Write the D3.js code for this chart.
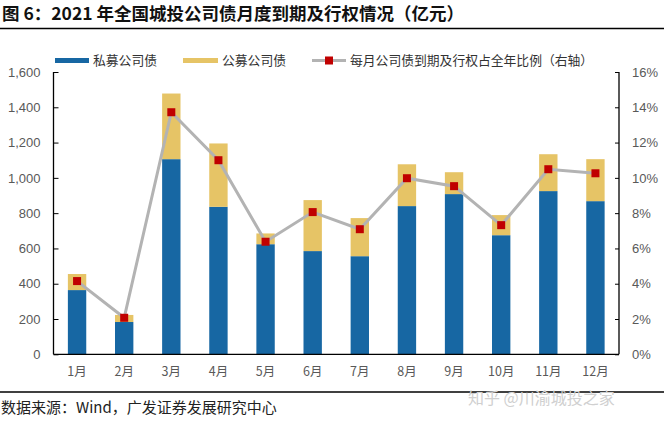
<!DOCTYPE html>
<html><head><meta charset="utf-8">
<script src="https://cdn.jsdelivr.net/npm/d3@7"></script>
<style>body{margin:0;background:#fff}svg{display:block}</style>
</head><body>
<svg id="c" width="664" height="431"></svg>
<script>
const months = ["1月","2月","3月","4月","5月","6月","7月","8月","9月","10月","11月","12月"];
const privateBonds = [364,183,1106,836,624,585,556,840,908,675,925,868];
const publicBonds = [91,40,372,359,61,289,216,237,124,114,209,238];
const ratio = [4.15,2.07,13.72,11.0,6.38,8.06,7.09,9.98,9.53,7.32,10.49,10.26];
const leftTicks = [0,200,400,600,800,1000,1200,1400,1600];
const rightTicks = [0,2,4,6,8,10,12,14,16];
const seriesNames = ["私募公司债","公募公司债","每月公司债到期及行权占全年比例（右轴）"];
const colors = {priv:"#1767a3", pub:"#e6c466", line:"#b3b3b3", marker:"#c00000"};

const svg = d3.select("#c");
const cjk = "'Noto Sans CJK SC', sans-serif";
const L = 53.5, R = 619, T = 72, B = 354.3;

svg.append("text").attr("x",2).attr("y",20).attr("font-family",cjk).attr("font-weight","bold")
  .attr("font-size",17.5).attr("fill","#111").text("图 6：2021 年全国城投公司债月度到期及行权情况（亿元）");
svg.append("line").attr("x1",0).attr("x2",664).attr("y1",28.5).attr("y2",28.5).attr("stroke","#000").attr("stroke-width",1.5);
svg.append("line").attr("x1",0).attr("x2",664).attr("y1",392).attr("y2",392).attr("stroke","#000").attr("stroke-width",1.5);
svg.append("text").attr("x",1).attr("y",413).attr("font-family",cjk).attr("font-size",15).attr("fill","#222")
  .text("数据来源：Wind，广发证券发展研究中心");
svg.append("text").attr("x",468).attr("y",404).attr("font-family",cjk).attr("font-size",16).attr("fill","#d0d0d0")
  .text("知乎 @川渝城投之家");

const x = d3.scaleBand().domain(months).range([L,R]).paddingInner(0.61).paddingOuter(0.305);
const y = d3.scaleLinear().domain([0,1600]).range([B,T]);
const y2 = d3.scaleLinear().domain([0,16]).range([B,T]);

// bars
const g = svg.append("g");
g.selectAll(".p").data(months).join("rect").attr("x",d=>x(d)).attr("width",x.bandwidth())
  .attr("y",(d,i)=>y(privateBonds[i])).attr("height",(d,i)=>B-y(privateBonds[i])).attr("fill",colors.priv);
g.selectAll(".q").data(months).join("rect").attr("x",d=>x(d)).attr("width",x.bandwidth())
  .attr("y",(d,i)=>y(privateBonds[i]+publicBonds[i])).attr("height",(d,i)=>y(privateBonds[i])-y(privateBonds[i]+publicBonds[i])).attr("fill",colors.pub);

// axes
const ax = d3.axisLeft(y).tickValues(leftTicks).tickSize(-5).tickPadding(13).tickFormat(d3.format(","));
const ag = svg.append("g").attr("transform",`translate(${L},0)`).call(ax);
const ax2 = d3.axisRight(y2).tickValues(rightTicks).tickSize(-4).tickPadding(13).tickFormat(d=>d+"%");
const ag2 = svg.append("g").attr("transform",`translate(${R},0)`).call(ax2);
const axb = d3.axisBottom(x).tickSize(0).tickPadding(13);
const agb = svg.append("g").attr("transform",`translate(0,${B})`).call(axb);
[ag,ag2,agb].forEach(a=>{
  a.select(".domain").attr("stroke","#000").attr("stroke-width",1.3);
  a.selectAll(".tick line").attr("stroke","#000");
  a.selectAll("text").attr("font-family","'Liberation Sans', Arial, sans-serif").attr("font-size",13).attr("fill","#595959");
});
agb.selectAll("text").attr("font-family",cjk).attr("font-size",12.5);
agb.select(".domain").attr("d",`M${L},0H${R}`);
ag.select(".domain").attr("d",`M0,${T}V${B}`);
ag2.select(".domain").attr("d",`M0,${T}V${B}`);

// line
const cx = d=>x(d)+x.bandwidth()/2;
svg.append("path").datum(months).attr("fill","none").attr("stroke",colors.line).attr("stroke-width",3)
  .attr("d",d3.line().x(d=>cx(d)).y((d,i)=>y2(ratio[i])));
svg.selectAll(".m").data(months).join("rect").attr("x",d=>cx(d)-4).attr("y",(d,i)=>y2(ratio[i])-4)
  .attr("width",8).attr("height",8).attr("fill",colors.marker);

// legend
const lg = svg.append("g");
lg.append("rect").attr("x",55).attr("y",58).attr("width",34).attr("height",5).attr("fill",colors.priv);
lg.append("text").attr("x",93).attr("y",65).text(seriesNames[0]);
lg.append("rect").attr("x",183).attr("y",58).attr("width",35).attr("height",5).attr("fill",colors.pub);
lg.append("text").attr("x",222).attr("y",65).text(seriesNames[1]);
lg.append("line").attr("x1",312).attr("x2",346).attr("y1",60.5).attr("y2",60.5).attr("stroke",colors.line).attr("stroke-width",3);
lg.append("rect").attr("x",325).attr("y",56.5).attr("width",8).attr("height",8).attr("fill",colors.marker);
lg.append("text").attr("x",350).attr("y",65).text(seriesNames[2]);
lg.selectAll("text").attr("font-family",cjk).attr("font-size",12.8).attr("fill","#333");
</script>
</body></html>
